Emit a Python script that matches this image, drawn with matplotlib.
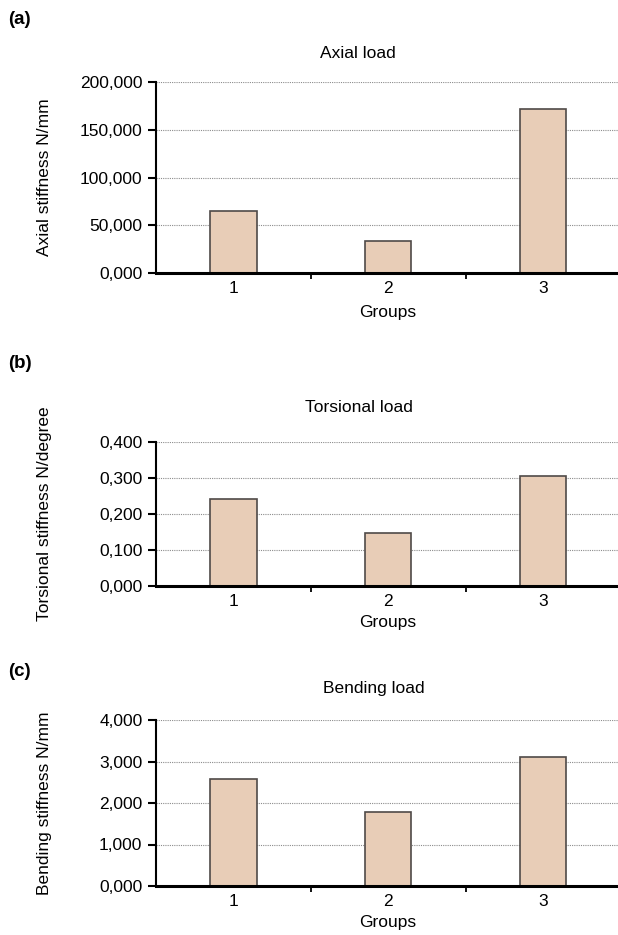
import matplotlib
matplotlib.use("Agg")
import matplotlib.pyplot as plt
from matplotlib.ticker import FuncFormatter

plt.rcParams['font.family'] = ['Liberation Sans', 'DejaVu Sans']

# --- DATA ---
groups = ["1", "2", "3"]
axial_vals = [65.2, 33.2, 171.7]
torsional_vals = [0.241, 0.148, 0.306]
bending_vals = [2.59, 1.79, 3.12]

axial_ticks = [0, 50, 100, 150, 200]
torsional_ticks = [0, 0.1, 0.2, 0.3, 0.4]
bending_ticks = [0, 1, 2, 3, 4]

panel_labels = ["(a)", "(b)", "(c)"]
titles = ["Axial load", "Torsional load", "Bending load"]
ylabels = ["Axial stiffness N/mm", "Torsional stiffness N/degree", "Bending stiffness N/mm"]
xlabel = "Groups"

W, H = 618, 935

def fx(x):
    return x / W

def fy(y):
    return 1 - y / H

comma_fmt = FuncFormatter(lambda v, pos: f"{v:.3f}".replace(".", ","))

# pixel layout: (axes top, axes bottom, panel label y, title x, title y, xlabel y)
layout = [
    (82, 273, 20, 358, 53, 313),
    (442, 586, 363, 359, 407, 622),
    (720, 886, 672, 374, 689, 923),
]
series = [axial_vals, torsional_vals, bending_vals]
yticks = [axial_ticks, torsional_ticks, bending_ticks]

fig = plt.figure(figsize=(W / 100, H / 100), dpi=100)
ax_left, ax_right = 156, 620.5
x = list(range(len(groups)))

for i in range(3):
    top, bot, ly, tx, ty, gy = layout[i]
    ax = fig.add_axes([fx(ax_left), fy(bot), fx(ax_right - ax_left), (bot - top) / H])
    ax.bar(x, series[i], width=0.3, color='#E8CDB7', edgecolor='#4f4a48',
           linewidth=1.2, zorder=3)
    ax.set_xlim(-0.5, 2.5)
    ax.set_ylim(yticks[i][0], yticks[i][-1])
    ax.set_yticks(yticks[i])
    ax.yaxis.set_major_formatter(comma_fmt)
    ax.set_xticks(x, groups)
    # separators between the groups
    ax.set_xticks([0.5, 1.5], minor=True)

    ax.yaxis.grid(True, linestyle=(0, (1, 1)), color='#8c8c8c', linewidth=0.8)
    ax.set_axisbelow(True)

    for s in ['top', 'right']:
        ax.spines[s].set_visible(False)
    ax.spines['left'].set_linewidth(1.5)
    ax.spines['bottom'].set_linewidth(2.2)
    ax.spines['bottom'].set_zorder(4)

    ax.tick_params(axis='y', length=5.8, width=1.5, pad=4, labelsize=12.5)
    ax.tick_params(axis='x', which='major', length=0, pad=6, labelsize=12.5)
    ax.tick_params(axis='x', which='minor', length=4.5, width=1.3, direction='out')

    fig.text(fx(8), fy(ly), panel_labels[i], fontsize=13.5, fontweight='bold',
             ha='left', va='center')
    fig.text(fx(tx), fy(ty), titles[i], fontsize=12.5, ha='center', va='center')
    fig.text(fx(388), fy(gy), xlabel, fontsize=12.5, ha='center', va='center')
    fig.text(fx(45), fy((top + bot) / 2), ylabels[i], fontsize=12.5, rotation=90,
             ha='center', va='center')

fig.savefig("out.png", dpi=100)
